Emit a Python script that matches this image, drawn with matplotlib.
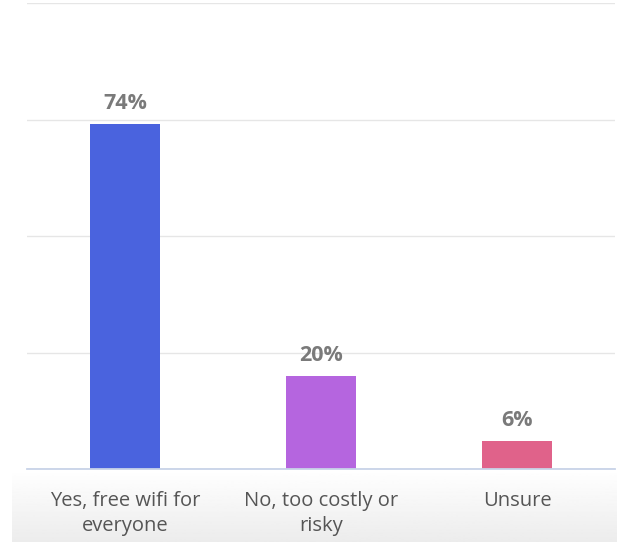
import numpy as np
import matplotlib.pyplot as plt

# survey answers and share of respondents (%)
categories = ["Yes, free wifi for\neveryone", "No, too costly or\nrisky", "Unsure"]
shares = [74, 20, 6]
bar_colors = ["#4a63de", "#b565df", "#e0628a"]

fig = plt.figure(figsize=(6.17, 5.46), dpi=100)

# faint grey shading under the category labels
bg = fig.add_axes([0.02, 0.008, 0.98, 0.133], zorder=0)
grad = np.linspace(1.0, 0.925, 64).reshape(-1, 1)
bg.imshow(grad, cmap="gray", vmin=0, vmax=1, aspect="auto",
          extent=[0, 1, 0, 1], origin="upper")
bg.axis("off")

ax = fig.add_axes([0.044, 0.141, 0.953, 0.853], zorder=1)
ax.patch.set_alpha(0)

x = np.arange(len(categories))
ax.bar(x, shares, width=0.36, color=bar_colors, zorder=3)

for xi, v in zip(x, shares):
    ax.text(xi, v + 2.2, f"{v}%", ha="center", va="bottom", fontsize=15.5,
            fontweight="bold", color="#7a7a7a", family="Open Sans")

ax.set_xlim(-0.5, len(categories) - 0.5)
ax.set_ylim(0, 100)
ax.set_yticks([0, 25, 50, 75, 100])
ax.set_yticklabels([])
ax.tick_params(axis="y", length=0)
ax.grid(axis="y", color="#e6e6e6", linewidth=1, zorder=0)

ax.set_xticks(x)
ax.set_xticklabels(categories, fontsize=14.5, color="#555555", family="Open Sans",
                   linespacing=1.3)
ax.tick_params(axis="x", length=0, pad=16)

for side in ["left", "right", "top"]:
    ax.spines[side].set_visible(False)
ax.spines["bottom"].set_color("#c8d3e8")
ax.spines["bottom"].set_linewidth(1.3)
ax.spines["bottom"].set_zorder(4)

fig.savefig("out.png", dpi=100)
